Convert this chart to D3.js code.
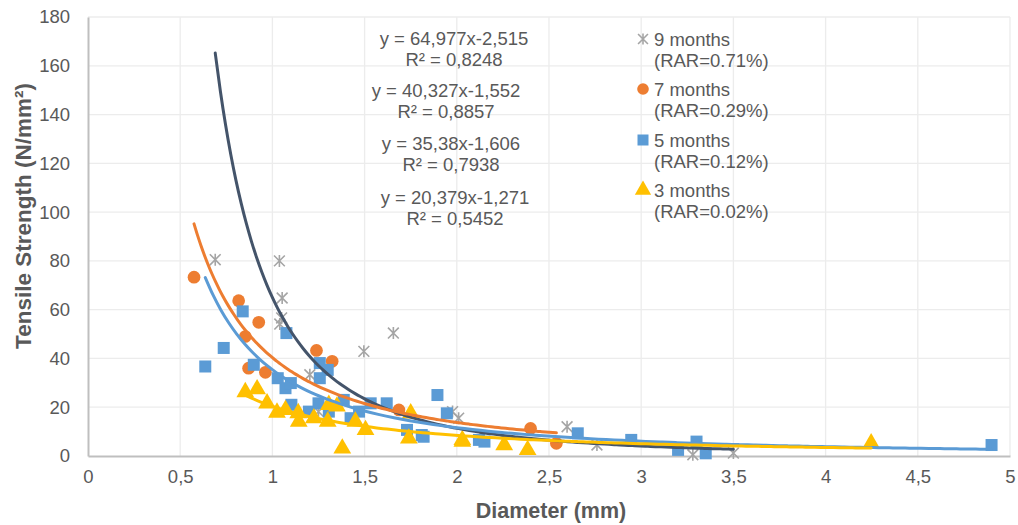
<!DOCTYPE html>
<html>
<head>
<meta charset="utf-8">
<script src="https://cdn.jsdelivr.net/npm/d3@7"></script>
<style>
  body { margin: 0; background: #fff; }
  svg text { font-family: "Liberation Sans", Arial, sans-serif; fill: #595959; }
</style>
</head>
<body>
<svg width="1018" height="525"></svg>
<script>
// data: [diameter, tensile strength]
var months9 = [[0.69, 80.5], [1.038, 80], [1.053, 64.8], [1.05, 56.6], [1.04, 54.1], [1.203, 33.3],
  [1.25, 18.2], [1.496, 42.9], [1.656, 50.4], [1.977, 18.2], [2.01, 15.5], [2.598, 12],
  [2.76, 4.5], [3.28, 0.5], [3.5, 1.2]];
var months7 = [[0.575, 73.3], [0.817, 63.7], [0.926, 54.8], [0.853, 49], [0.871, 36], [0.962, 34.3],
  [1.239, 43.3], [1.324, 38.8], [1.686, 18.9], [2.40, 11.3], [2.54, 5.2]];
var months5 = [[0.636, 36.7], [0.736, 44.3], [0.839, 59.3], [1.076, 50.4], [0.899, 37.4], [1.029, 31.9],
  [1.071, 27.8], [1.10, 29.9], [1.103, 21], [1.257, 38.1], [1.257, 31.9], [1.198, 18.2], [1.30, 35.3],
  [1.25, 21.6], [1.306, 18.2], [1.387, 23], [1.424, 15.5], [1.47, 18.2], [1.533, 21.6], [1.62, 21.6],
  [1.895, 25], [1.946, 17.5], [1.73, 10.7], [1.81, 8.6], [1.82, 7.9], [2.12, 6.6], [2.15, 5.9],
  [2.656, 9.3], [2.946, 6.6], [3.2, 2.5], [3.30, 5.9], [3.35, 1.1], [4.90, 4.5]];
var months3 = [[0.853, 26.2], [0.917, 27.4], [0.971, 21.6], [1.025, 17.8], [1.071, 18.9], [1.143, 14.1],
  [1.14, 17.6], [1.225, 15.5], [1.30, 14.1], [1.306, 21], [1.35, 20.3], [1.379, 3.1], [1.45, 14.1],
  [1.505, 10.7], [1.75, 17.5], [1.74, 7.2], [2.03, 6.6], [2.03, 5.9], [2.257, 4.5], [2.384, 2.5],
  [4.247, 5.2]];

// power trend lines y = a * x^b, as printed on the chart
var fits = [
  {name: "9 months", rar: "(RAR=0.71%)", a: 64.977, b: -2.515, eq: "y = 64,977x-2,515", r2: "R² = 0,8248"},
  {name: "7 months", rar: "(RAR=0.29%)", a: 40.327, b: -1.552, eq: "y = 40,327x-1,552", r2: "R² = 0,8857"},
  {name: "5 months", rar: "(RAR=0.12%)", a: 35.38, b: -1.606, eq: "y = 35,38x-1,606", r2: "R² = 0,7938"},
  {name: "3 months", rar: "(RAR=0.02%)", a: 20.379, b: -1.271, eq: "y = 20,379x-1,271", r2: "R² = 0,5452"}
];

var xTicks = [0, 0.5, 1, 1.5, 2, 2.5, 3, 3.5, 4, 4.5, 5];
var yTicks = [0, 20, 40, 60, 80, 100, 120, 140, 160, 180];

var series = [months9, months7, months5, months3];
var markColor = ["#a5a5a5", "#ed7d31", "#5b9bd5", "#ffc000"];
var lineColor = ["#44546a", "#ed7d31", "#5b9bd5", "#ffc000"];

var svg = d3.select("svg");
var x = d3.scaleLinear().domain([0, 5]).range([88, 1010]);
var y = d3.scaleLinear().domain([0, 180]).range([456, 17]);
var fmt = function(d) { return String(d).replace(".", ","); };

// grid
svg.append("g").selectAll("line").data(xTicks.slice(1)).enter().append("line")
    .attr("x1", function(d) { return x(d); }).attr("x2", function(d) { return x(d); })
    .attr("y1", y(0)).attr("y2", y(180))
    .attr("stroke", "#ececec").attr("stroke-width", 1.3);
svg.append("g").selectAll("line").data(yTicks.slice(1)).enter().append("line")
    .attr("x1", x(0)).attr("x2", x(5))
    .attr("y1", function(d) { return y(d); }).attr("y2", function(d) { return y(d); })
    .attr("stroke", "#ececec").attr("stroke-width", 1.3);

// axes
var gx = svg.append("g").attr("transform", "translate(0," + y(0) + ")")
    .call(d3.axisBottom(x).tickValues(xTicks).tickFormat(fmt).tickSize(0).tickPadding(14));
var gy = svg.append("g").attr("transform", "translate(" + x(0) + ",0)")
    .call(d3.axisLeft(y).tickValues(yTicks).tickSize(0).tickPadding(18));
[gx, gy].forEach(function(g) {
  g.select(".domain").attr("stroke", "#bfbfbf").attr("stroke-width", 2);
  g.selectAll("text").attr("font-size", 18.5).attr("fill", "#595959")
    .attr("font-family", "Liberation Sans, Arial, sans-serif");
});

svg.append("text").attr("transform", "translate(31,216) rotate(-90)")
    .attr("text-anchor", "middle").attr("font-weight", "bold").attr("font-size", 22.5)
    .text("Tensile Strength (N/mm²)");
svg.append("text").attr("x", 551).attr("y", 518)
    .attr("text-anchor", "middle").attr("font-weight", "bold").attr("font-size", 21.5)
    .text("Diameter (mm)");

// markers
function marker(g, i, size) {
  var s = size;
  if (i === 0) {
    g.append("path")
      .attr("d", "M" + (-s * 0.45) + "," + (-s * 0.45) + "L" + (s * 0.45) + "," + (s * 0.45) +
                 "M" + (-s * 0.45) + "," + (s * 0.45) + "L" + (s * 0.45) + "," + (-s * 0.45) +
                 "M0," + (-s * 0.5) + "L0," + (s * 0.5))
      .attr("stroke", markColor[0]).attr("stroke-width", 1.6).attr("fill", "none");
  } else if (i === 1) {
    g.append("circle").attr("r", s * 0.53).attr("fill", markColor[1]);
  } else if (i === 2) {
    g.append("rect").attr("x", -s * 0.5).attr("y", -s * 0.5)
      .attr("width", s).attr("height", s).attr("fill", markColor[2]);
  } else {
    g.append("path").attr("d", d3.symbol(d3.symbolTriangle, s * s * 0.95)())
      .attr("fill", markColor[3]);
  }
}

series.forEach(function(data, i) {
  svg.append("g").selectAll("g").data(data).enter().append("g")
    .attr("transform", function(d) { return "translate(" + x(d[0]) + "," + y(d[1]) + ")"; })
    .each(function() { marker(d3.select(this), i, 12); });
});

// trend lines
var line = d3.line().x(function(d) { return x(d[0]); }).y(function(d) { return y(d[1]); })
    .curve(d3.curveMonotoneX);
fits.forEach(function(f, i) {
  var ext = d3.extent(series[i], function(d) { return d[0]; });
  var pts = d3.range(0, 101).map(function(k) {
    var xv = ext[0] + (ext[1] - ext[0]) * k / 100;
    return [xv, f.a * Math.pow(xv, f.b)];
  });
  svg.append("path").datum(pts)
    .attr("fill", "none").attr("stroke", lineColor[i]).attr("stroke-width", 3)
    .attr("stroke-linecap", "round").attr("d", line);
});

// equations
var eqX = [454, 446, 451, 455];
var eqY = [45, 97, 150, 204];
fits.forEach(function(f, i) {
  svg.append("text").attr("x", eqX[i]).attr("y", eqY[i]).attr("text-anchor", "middle")
    .attr("font-size", 18.5).text(f.eq);
  svg.append("text").attr("x", eqX[i]).attr("y", eqY[i] + 21).attr("text-anchor", "middle")
    .attr("font-size", 18.5).text(f.r2);
});

// legend
var legY = [39, 89, 140, 190];
fits.forEach(function(f, i) {
  var g = svg.append("g").attr("transform", "translate(643," + legY[i] + ")");
  marker(g, i, 11);
  g.append("text").attr("x", 11).attr("y", 6.5).attr("font-size", 18.5).text(f.name);
  g.append("text").attr("x", 11).attr("y", 27.5).attr("font-size", 18.5).text(f.rar);
});
</script>
</body>
</html>
